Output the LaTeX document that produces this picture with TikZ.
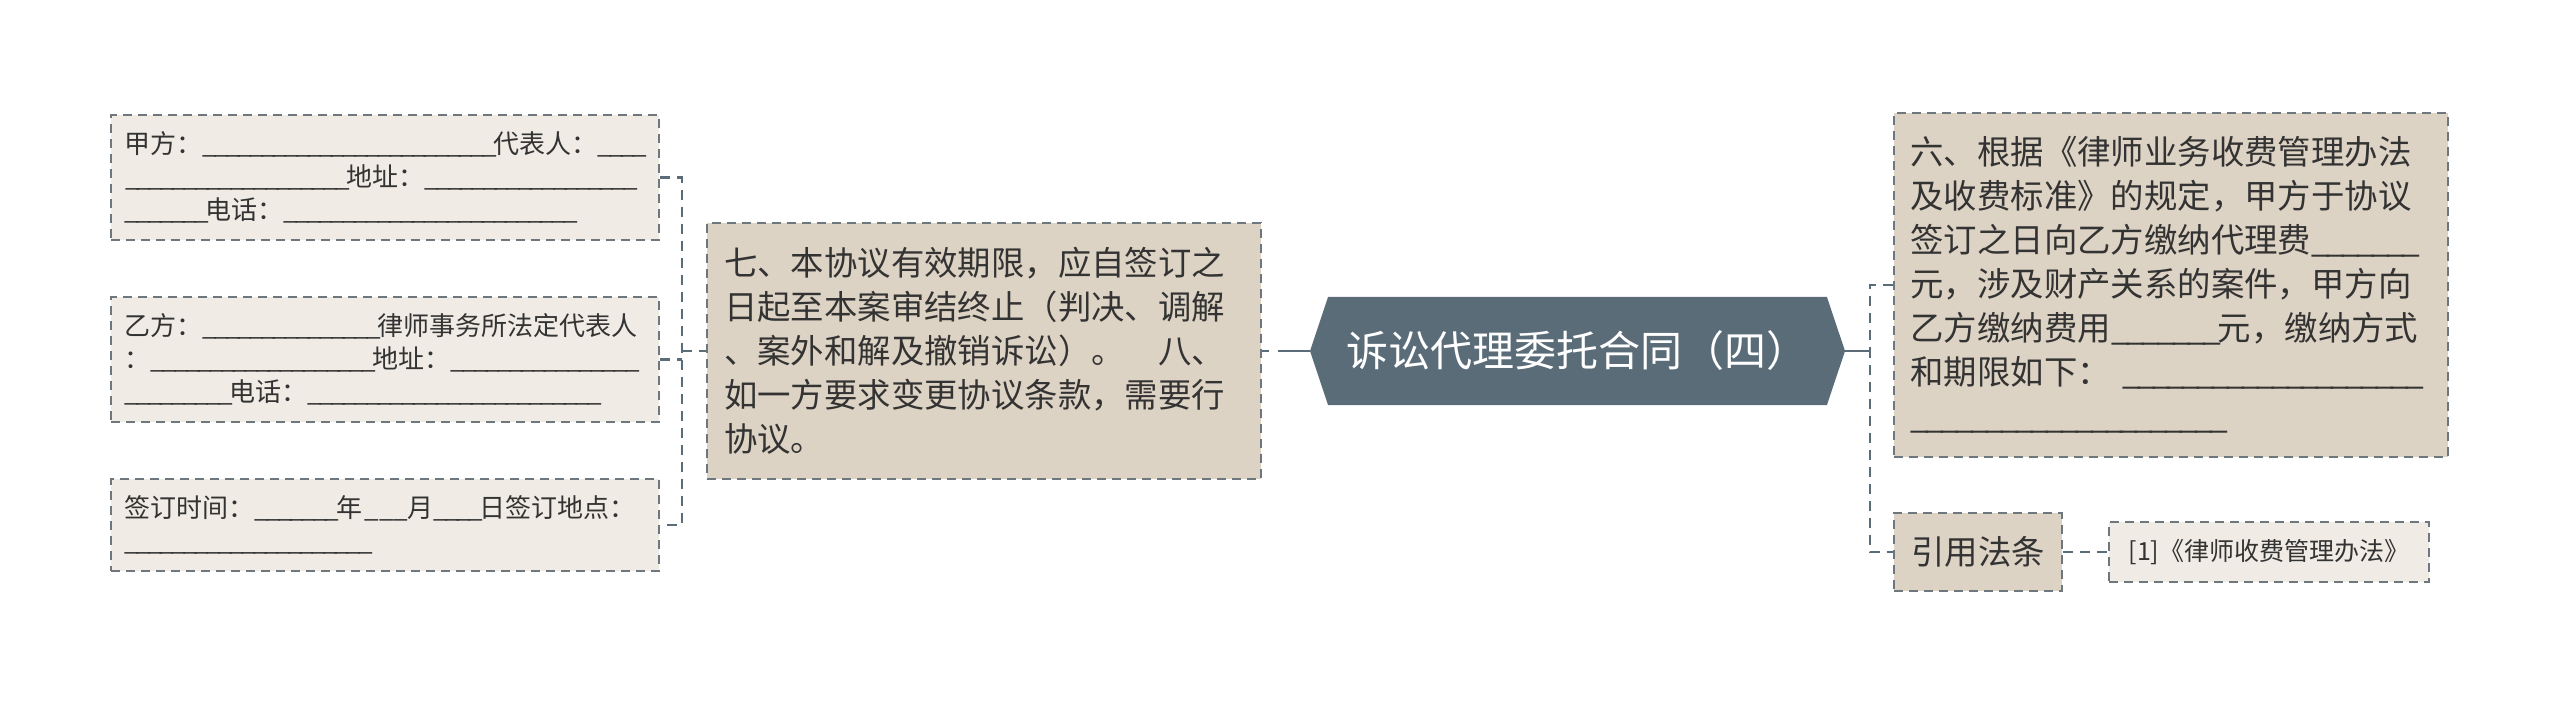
\documentclass[tikz,border=0pt]{standalone}
\usepackage{fontspec}
\setmainfont{Noto Sans CJK SC}
\usetikzlibrary{shapes.symbols}
\definecolor{slate}{HTML}{5A6C78}
\definecolor{sand}{HTML}{DDD3C4}
\definecolor{paper}{HTML}{F0ECE5}
\definecolor{edge}{HTML}{6E777E}
\definecolor{ink}{HTML}{333333}
\tikzset{box/.style={draw=edge, line width=2pt, dash pattern=on 9pt off 6pt, text=ink, inner ysep=0pt}}
\tikzset{leaf/.style={box, fill=paper, align=left, text width=521pt, inner xsep=13.5pt, font=\fontsize{26}{33}\selectfont}}
\tikzset{twig/.style={box, fill=sand, align=left, text width=520pt, inner xsep=17pt, font=\fontsize{33.4}{44}\selectfont}}
\tikzset{tag/.style={box, fill=sand, inner xsep=17pt, font=\fontsize{33.4}{44}\selectfont}}
\tikzset{cite/.style={box, fill=paper, inner xsep=15pt, font=\fontsize{25}{30}\selectfont}}
\tikzset{hub/.style={signal, signal to=east and west, signal pointer angle=143, fill=slate, text=white, inner sep=0pt, font=\fontsize{42}{50}\selectfont}}
\tikzset{link/.style={draw=slate, line width=2.5pt, dash pattern=on 10pt off 7pt}}
\newcommand{\blank}[1]{\leavevmode\hbox to #1pt{\xleaders\hbox{\_\kern-0.12em}\hfill}}

\begin{document}
\begin{tikzpicture}[x=1pt, y=-1pt]
    \useasboundingbox[fill=white] (0, 0) rectangle (2560, 703);
    % centre
    \node[hub, minimum width=535pt, minimum height=108pt] (title) at (1577.5, 351) {诉讼代理委托合同（四）};
    % left side
    \node[twig, minimum height=256pt] (qi) at (984, 351) {七、本协议有效期限，应自签订之\\日起至本案审结终止（判决、调解\\、案外和解及撤销诉讼）。　八、\\如一方要求变更协议条款，需要行\\协议。};
    \node[leaf, minimum height=125pt] (jia) at (385.25, 177.5) {甲方：\blank{291}代表人：\blank{46}\\\blank{222}地址：\blank{210}\\\blank{81}电话：\blank{291}};
    \node[leaf, minimum height=125pt] (yi) at (385.25, 359.5) {乙方：\blank{175}律师事务所法定代表人\\：\blank{222}地址：\blank{186}\\\blank{105}电话：\blank{291}};
    \node[leaf, minimum height=92pt] (qian) at (385.25, 525) {签订时间：\blank{81.5}年\blank{45}月\blank{46.7}日签订地点：\\\blank{245}};
    % right side
    \node[twig, minimum height=344pt] (liu) at (2170.5, 285) {六、根据《律师业务收费管理办法\\及收费标准》的规定，甲方于协议\\签订之日向乙方缴纳代理费\blank{105}\\元，涉及财产关系的案件，甲方向\\乙方缴纳费用\blank{107}元，缴纳方式\\和期限如下：\ \blank{298}\\\blank{314}};
    \node[tag, minimum height=78pt] (yin) at (1978, 552) {引用法条};
    \node[cite, minimum width=320pt, minimum height=60pt] (law) at (2269, 552) {[1]《律师收费管理办法》};

    \coordinate (lbar) at (682, 351);
    \coordinate (rbar) at (1870, 351);
    \draw[link, dash pattern=on 32pt off 9pt] (title.west) -- (qi.east);
    \draw[link] (lbar) -- (qi.west);
    \draw[link] (jia.east) -| (lbar) |- (qian.east);
    \draw[link] (yi.east) -- (yi.east -| lbar);
    \draw[link, solid] (title.east) -- (rbar);
    \draw[link] (liu.west) -| (rbar) |- (yin.west);
    \draw[link] (yin.east) -- (law.west);
\end{tikzpicture}
\end{document}
